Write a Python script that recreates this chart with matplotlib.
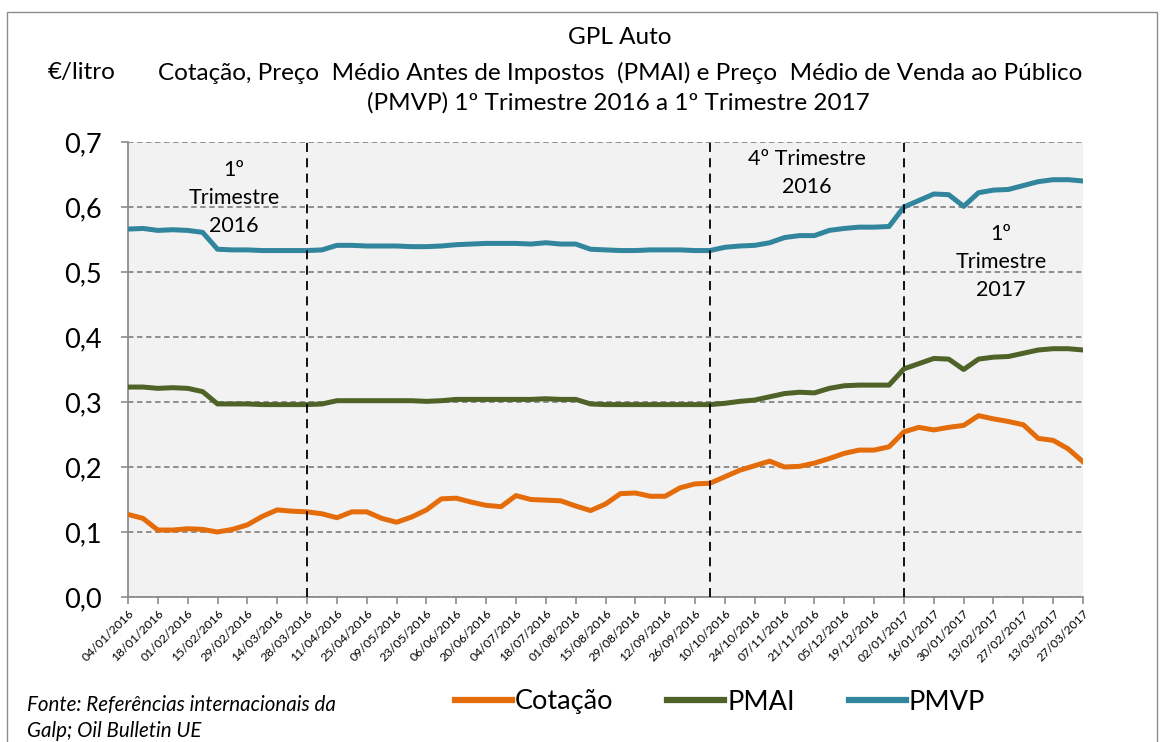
import numpy as np
import pandas as pd
import matplotlib
matplotlib.use('Agg')
import matplotlib.pyplot as plt
import matplotlib.patches as mpatches
from matplotlib.lines import Line2D

plt.rcParams['font.family'] = ['Lato', 'DejaVu Sans']

# weekly series, 04/01/2016 .. 27/03/2017 (EUR/litro)
dates = pd.date_range('2016-01-04', periods=65, freq='7D')

cotacao = [0.127, 0.121, 0.103, 0.103, 0.105, 0.104, 0.100, 0.104, 0.111, 0.124,
           0.134, 0.132, 0.131, 0.128, 0.122, 0.131, 0.131, 0.121, 0.115, 0.123,
           0.134, 0.151, 0.152, 0.146, 0.141, 0.139, 0.156, 0.150, 0.149, 0.148,
           0.140, 0.133, 0.143, 0.159, 0.160, 0.155, 0.155, 0.168, 0.174, 0.175,
           0.185, 0.195, 0.202, 0.209, 0.200, 0.201, 0.206, 0.213, 0.221, 0.226,
           0.226, 0.231, 0.254, 0.261, 0.257, 0.261, 0.264, 0.279, 0.274, 0.270,
           0.265, 0.244, 0.241, 0.228, 0.208]

pmai = [0.323, 0.323, 0.321, 0.322, 0.321, 0.316, 0.297, 0.297, 0.297, 0.296,
        0.296, 0.296, 0.296, 0.297, 0.302, 0.302, 0.302, 0.302, 0.302, 0.302,
        0.301, 0.302, 0.304, 0.304, 0.304, 0.304, 0.304, 0.304, 0.305, 0.304,
        0.304, 0.297, 0.296, 0.296, 0.296, 0.296, 0.296, 0.296, 0.296, 0.296,
        0.298, 0.301, 0.303, 0.308, 0.313, 0.315, 0.314, 0.321, 0.325, 0.326,
        0.326, 0.326, 0.351, 0.359, 0.367, 0.366, 0.350, 0.366, 0.369, 0.370,
        0.375, 0.380, 0.382, 0.382, 0.380]

pmvp = [0.566, 0.567, 0.564, 0.565, 0.564, 0.561, 0.535, 0.534, 0.534, 0.533,
        0.533, 0.533, 0.533, 0.534, 0.541, 0.541, 0.540, 0.540, 0.540, 0.539,
        0.539, 0.540, 0.542, 0.543, 0.544, 0.544, 0.544, 0.543, 0.545, 0.543,
        0.543, 0.535, 0.534, 0.533, 0.533, 0.534, 0.534, 0.534, 0.533, 0.533,
        0.538, 0.540, 0.541, 0.545, 0.553, 0.556, 0.556, 0.564, 0.567, 0.569,
        0.569, 0.570, 0.600, 0.610, 0.620, 0.619, 0.601, 0.622, 0.626, 0.627,
        0.633, 0.639, 0.642, 0.642, 0.640]

series_names = ['Cotação', 'PMAI', 'PMVP']
colors = ['#E46C0A', '#4F6228', '#31859C']

# quarter separators (index into dates)
quarter_lines = [12, 39, 52]
quarter_labels = ['1º\nTrimestre\n2016', '4º Trimestre\n2016', '1º\nTrimestre\n2017']
quarter_label_pos = [(7.1, 0.614), (45.5, 0.652), (58.5, 0.515)]

fig = plt.figure(figsize=(11.65, 7.42), dpi=100)
ax = fig.add_axes([128/1165, 1-597/742, (1083-128)/1165, (597-142)/742])
ax.set_facecolor('#F2F2F2')

# outer frame of the chart
fig.patches.append(mpatches.Rectangle((7/1165, -0.05), 1150/1165, 1.05-12/742,
                                      transform=fig.transFigure, fill=False,
                                      edgecolor='#8C8C8C', linewidth=1))

x = np.arange(len(dates))
for vals, name, c in zip([cotacao, pmai, pmvp], series_names, colors):
    ax.plot(x, vals, color=c, linewidth=3.6, solid_joinstyle='round', label=name, zorder=3)

for q in quarter_lines:
    ax.axvline(x[q], color='black', linestyle=(0, (5, 3.5)), linewidth=1.3, zorder=4)

for lab, (qx, qy) in zip(quarter_labels, quarter_label_pos):
    ax.text(qx, qy, lab, ha='center', va='center', fontsize=15.5, linespacing=1.5, zorder=5)

ax.set_xlim(0, len(dates)-1)
ax.set_ylim(0, 0.7)
yt = np.arange(0, 0.71, 0.1)
ax.set_yticks(yt)
ax.set_yticklabels([f'{v:.1f}'.replace('.', ',') for v in yt], fontsize=19.5)
ax.yaxis.grid(True, color='#868686', linestyle=(0, (3, 2)), linewidth=1.3)
ax.set_axisbelow(True)

ax.set_xticks(x[::2])
ax.set_xticklabels([d.strftime('%d/%m/%Y') for d in dates[::2]], rotation=45,
                   ha='right', rotation_mode='anchor', fontsize=8.8)

for s in ['top', 'right']:
    ax.spines[s].set_visible(False)
for s in ['left', 'bottom']:
    ax.spines[s].set_color('#8C8C8C')
    ax.spines[s].set_linewidth(1.3)
ax.tick_params(axis='both', color='#8C8C8C', length=5, width=1.2)
ax.tick_params(axis='y', pad=14)
ax.tick_params(axis='x', pad=3)

# titles
title_fs = 17.5
fig.text(620/1165, 1-38/742, 'GPL Auto', ha='center', va='center', fontsize=title_fs)
fig.text(620/1165, 1-73/742,
         'Cotação, Preço  Médio Antes de Impostos  (PMAI) e Preço  Médio de Venda ao Público',
         ha='center', va='center', fontsize=title_fs)
fig.text(618/1165, 1-103/742, '(PMVP) 1º Trimestre 2016 a 1º Trimestre 2017',
         ha='center', va='center', fontsize=title_fs)
fig.text(82/1165, 1-73/742, '€/litro', ha='center', va='center', fontsize=title_fs)

# source note
fig.text(27/1165, 1-705/742, 'Fonte: Referências internacionais da', ha='left',
         va='center', fontsize=14.8, style='italic')
fig.text(27/1165, 1-731/742, 'Galp; Oil Bulletin UE', ha='left',
         va='center', fontsize=14.8, style='italic')

handles = [Line2D([], [], color=c, linewidth=4.5) for c in colors]
fig.legend(handles, series_names, loc='center', bbox_to_anchor=(720/1165, 1-702/742),
           ncol=3, frameon=False, fontsize=19.5, handlelength=2.1, handletextpad=0.1,
           columnspacing=2.0)

fig.savefig('out.png', dpi=100)
